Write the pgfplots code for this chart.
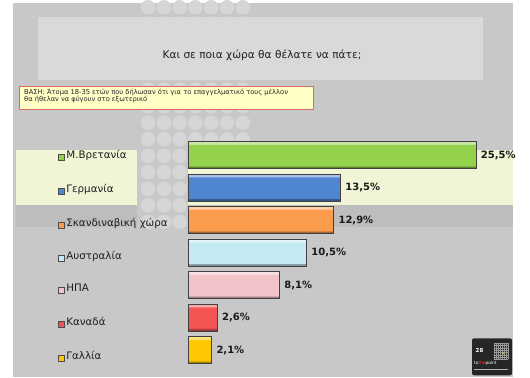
\documentclass[border=0pt]{standalone}
\usepackage{pgfplots}
\pgfplotsset{compat=1.18}
\usepackage{fontspec}
\setmainfont{DejaVu Sans}
\definecolor{slide}{HTML}{C8C8C8}
\definecolor{dotc}{HTML}{D6D6D6}
\definecolor{titlebox}{HTML}{D9D9D9}
\definecolor{notefill}{HTML}{FFFFC6}
\definecolor{notedraw}{HTML}{D86A6A}
\definecolor{bandy}{HTML}{F1F5D6}
\definecolor{bandg}{HTML}{BDBDBD}
\definecolor{cgreen}{HTML}{95D24C}
\definecolor{cblue}{HTML}{4F86CF}
\definecolor{corange}{HTML}{FB9B4C}
\definecolor{clblue}{HTML}{C6EAF3}
\definecolor{cpink}{HTML}{F2C3C8}
\definecolor{cred}{HTML}{F25454}
\definecolor{cyellow}{HTML}{FFC800}
\definecolor{logoc}{HTML}{262626}
\colorlet{bbot}{black}\colorlet{bmid}{gray}\colorlet{btop}{white}
\pgfdeclareverticalshading[bbot,bmid,btop]{bevel}{100bp}{color(0bp)=(bbot); color(29bp)=(bbot); color(31bp)=(bmid); color(69bp)=(bmid); color(71.5bp)=(btop); color(100bp)=(btop)}
\newcommand{\lab}[2]{{\setlength{\fboxsep}{2.8pt}\setlength{\fboxrule}{0.7pt}\raisebox{1.2pt}{\fcolorbox{black!70}{#1}{\rule{0pt}{0pt}}}}\hspace{1.2pt}#2}
\pgfplotsset{bev/.style={xbar, bar width=27pt, bar shift=0pt, draw=black!75, line width=0.9pt, /utils/exec={\colorlet{bmid}{#1}\colorlet{btop}{#1!50!white}\colorlet{bbot}{#1!65!black}}, shade, shading=bevel}}
\begin{document}
\begin{tikzpicture}[x=1pt,y=1pt]
\fill[white] (0,0) rectangle (530,374);
\fill[slide] (13,0) rectangle (513,374);
\foreach \i in {0,...,6}{\foreach \j in {0,...,13}{\fill[dotc] ({148+15.8*\i},{370-16.5*\j}) circle (7.3);}}
\fill[bandy] (16,172) rectangle (137,227);
\fill[bandy] (188,172) rectangle (513,227);
\fill[bandg] (16,150) rectangle (137,172);
\fill[bandg] (188,150) rectangle (513,172);
\fill[titlebox] (38,297) rectangle (483,360);
\node[font=\fontsize{10.6}{12}\selectfont, text=black!88] at (262,322) {Και σε ποια χώρα θα θέλατε να πάτε;};
\draw[draw=notedraw, fill=notefill, line width=0.7pt] (19,268) rectangle (313,291);
\node[anchor=north west, align=left, font=\fontsize{6.7}{7.4}\selectfont, inner sep=0, text=black!85] at (24,288.8) {ΒΑΣΗ: Άτομα 18-35 ετών που δήλωσαν ότι για το επαγγελματικό τους μέλλον\\θα ήθελαν να φύγουν στο εξωτερικό};
\begin{axis}[at={(188pt,7.5pt)}, anchor=south west, scale only axis,
  width=316.4pt, height=234pt, xmin=0, xmax=28, ymin=-6.6, ymax=0.6,
  axis line style={draw=none}, xtick=\empty,
  ytick={-6.25,-5.2,-4.15,-3.17,-2.15,-1.11,-0.06},
  yticklabels={\lab{cyellow}{Γαλλία},\lab{cred}{Καναδά},\lab{cpink}{ΗΠΑ},\lab{clblue}{Αυστραλία},\lab{corange}{Σκανδιναβική χώρα},\lab{cblue}{Γερμανία},\lab{cgreen}{Μ.Βρετανία}},
  major tick length=0pt,
  yticklabel style={anchor=west, inner sep=0pt, xshift=-130pt, yshift=1.5pt, font=\fontsize{10.3}{12}\selectfont, text=black!88},
  clip=false, point meta=explicit symbolic, nodes near coords,
  nodes near coords style={anchor=west, xshift=1pt, font=\bfseries\fontsize{10}{12}\selectfont, text=black!90}]
\addplot[bev=cgreen] coordinates {(25.5,0) [25,5\%]};
\addplot[bev=cblue] coordinates {(13.5,-1) [13,5\%]};
\addplot[bev=corange] coordinates {(12.9,-2) [12,9\%]};
\addplot[bev=clblue] coordinates {(10.5,-3) [10,5\%]};
\addplot[bev=cpink] coordinates {(8.1,-4) [8,1\%]};
\addplot[bev=cred] coordinates {(2.6,-5) [2,6\%]};
\addplot[bev=cyellow] coordinates {(2.1,-6) [2,1\%]};
\end{axis}
\fill[logoc, rounded corners=2pt] (472,2) rectangle (512,39);
\node[text=white, font=\bfseries\fontsize{5.5}{6}\selectfont, anchor=west, inner sep=0] at (475.5,27) {28};
\foreach \k in {0,...,7}{\draw[gray!80, line width=0.25pt] ({494+2*\k},18) -- ({494+2*\k},34); \draw[gray!80, line width=0.25pt] (494,{18+2.285*\k}) -- (508,{18+2.285*\k});}
\fill[yellow] (503,24) circle (0.9);
\node[text=white, font=\fontsize{4.3}{5}\selectfont, anchor=west, inner sep=0] at (474,13.5) {to\textcolor{red!80}{the}point};
\draw[gray!60, line width=0.3pt] (474,8) -- (508,8);
\end{tikzpicture}
\end{document}
